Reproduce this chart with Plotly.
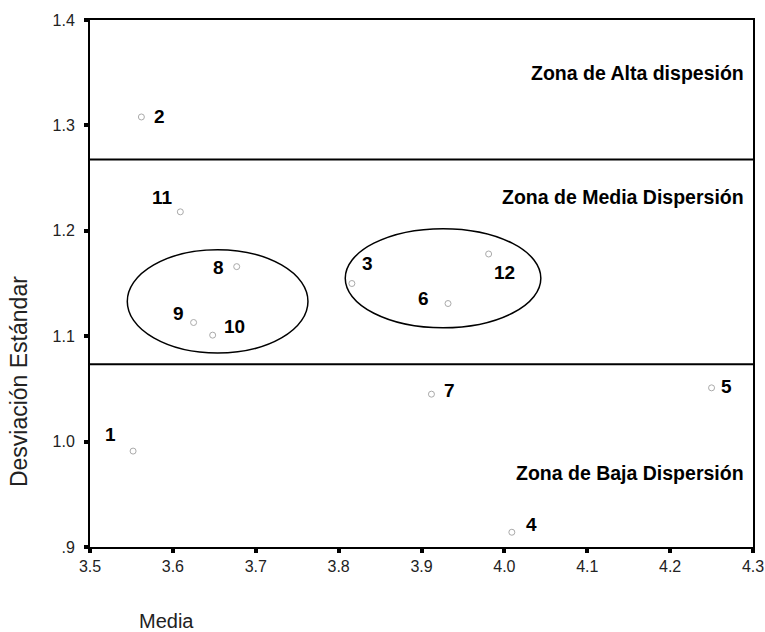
import plotly.graph_objects as go

# ---- data ----
ids = ["1", "2", "3", "4", "5", "6", "7", "8", "9", "10", "11", "12"]
media = [3.552, 3.562, 3.816, 4.009, 4.250, 3.932, 3.912, 3.677, 3.625, 3.648, 3.609, 3.981]
desv = [0.991, 1.308, 1.150, 0.914, 1.051, 1.131, 1.045, 1.166, 1.113, 1.101, 1.218, 1.178]

x_ticks = [3.5, 3.6, 3.7, 3.8, 3.9, 4.0, 4.1, 4.2, 4.3]
x_tick_text = ["3.5", "3.6", "3.7", "3.8", "3.9", "4.0", "4.1", "4.2", "4.3"]
y_ticks = [0.9, 1.0, 1.1, 1.2, 1.3, 1.4]
y_tick_text = [".9", "1.0", "1.1", "1.2", "1.3", "1.4"]

zone_limits = [1.0733, 1.2676]
zone_names = ["Zona de Alta dispesión", "Zona de Media Dispersión", "Zona de Baja Dispersión"]
zone_text_y = [1.350, 1.232, 0.970]

# ellipse groups: (x0, x1, y0, y1)
groups = [(3.545, 3.763, 1.084, 1.182), (3.808, 4.044, 1.108, 1.202)]

# label offsets in pixels (dx, dy)
label_offsets = {
    "1": (-23, 17), "2": (18, 0), "3": (16, 20), "4": (20, 8),
    "5": (15, 1), "6": (-25, 5), "7": (18, 4), "8": (-18, -1),
    "9": (-15, 9), "10": (22, 9), "11": (-18, 14), "12": (16, -19),
}

FONT = "Liberation Sans, Arial, sans-serif"

fig = go.Figure()
fig.add_trace(go.Scatter(
    x=media, y=desv, mode="markers",
    marker=dict(symbol="circle-open", size=6, color="#aaaaaa", line=dict(width=1)),
    showlegend=False, hoverinfo="text", text=ids,
))

annotations = []
for i, xv, yv in zip(ids, media, desv):
    dx, dy = label_offsets[i]
    annotations.append(dict(
        x=xv, y=yv, xref="x", yref="y", text=f"<b>{i}</b>", showarrow=False,
        xshift=dx, yshift=dy, font=dict(family=FONT, size=19, color="black"),
    ))

for name, yv in zip(zone_names, zone_text_y):
    annotations.append(dict(
        x=0.99, y=yv, xref="paper", yref="y", text=f"<b>{name}</b>", showarrow=False,
        xanchor="right", yanchor="middle", font=dict(family=FONT, size=19.5, color="black"),
    ))

annotations.append(dict(
    x=0.115, y=-0.140, xref="paper", yref="paper", text="Media", showarrow=False,
    xanchor="center", yanchor="middle", font=dict(family=FONT, size=20, color="#222"),
))
annotations.append(dict(
    x=-0.107, y=0.313, xref="paper", yref="paper", text="Desviación Estándar", showarrow=False,
    textangle=-90, xanchor="center", yanchor="middle", font=dict(family=FONT, size=23, color="#222"),
))

shapes = []
for yl in zone_limits:
    shapes.append(dict(type="line", xref="paper", yref="y", x0=0, x1=1, y0=yl, y1=yl,
                       line=dict(color="black", width=2)))
for (x0, x1, y0, y1) in groups:
    shapes.append(dict(type="circle", xref="x", yref="y", x0=x0, x1=x1, y0=y0, y1=y1,
                       line=dict(color="black", width=1.5)))

fig.update_layout(
    width=765, height=632,
    margin=dict(l=90, r=12, t=20, b=85, autoexpand=False),
    paper_bgcolor="white", plot_bgcolor="white",
    annotations=annotations, shapes=shapes,
    font=dict(family=FONT, color="black"),
)
fig.update_xaxes(
    range=[3.5, 4.3], tickvals=x_ticks, ticktext=x_tick_text,
    showgrid=False, zeroline=False, showline=True, linecolor="black", linewidth=2,
    mirror=True, ticks="outside", ticklen=4, tickwidth=4, tickcolor="black",
    ticklabeloverflow="allow", automargin=False,
    tickfont=dict(family=FONT, size=16, color="#222"),
)
fig.update_yaxes(
    range=[0.9, 1.4], tickvals=y_ticks, ticktext=y_tick_text,
    showgrid=False, zeroline=False, showline=True, linecolor="black", linewidth=2,
    mirror=True, ticks="outside", ticklen=4, tickwidth=4, tickcolor="black",
    automargin=False, ticklabelstandoff=6,
    tickfont=dict(family=FONT, size=16, color="#222"),
)

# remove the browser's default body margin so the figure fills the window exactly
fig.write_html(
    "out.html",
    config={"displayModeBar": False},
    post_script="document.body.style.margin='0';document.body.style.overflow='hidden';",
)
